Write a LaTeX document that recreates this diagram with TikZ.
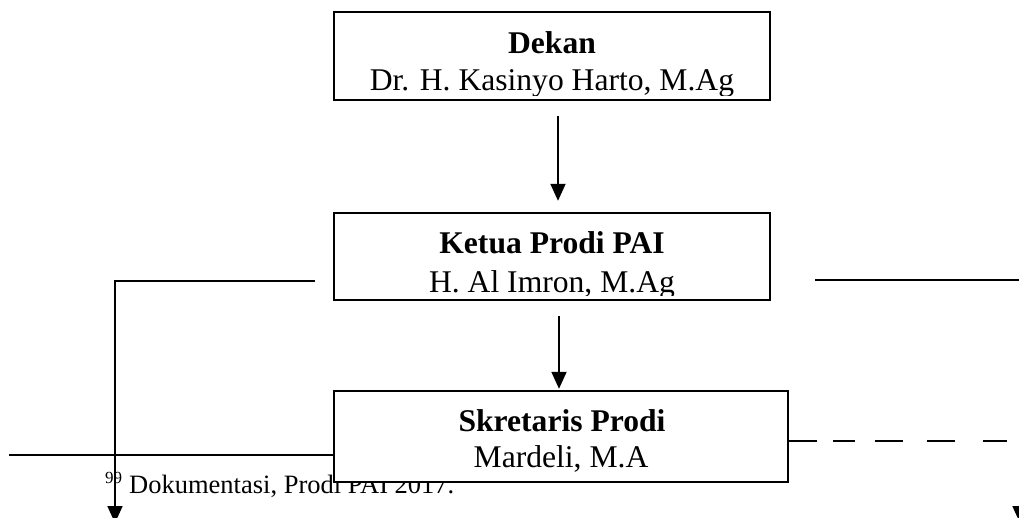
\documentclass[tikz,border=0pt]{standalone}
\usepackage{fontspec}
\setmainfont{Liberation Serif}
\usetikzlibrary{arrows.meta}
\tikzset{
 box/.style={draw, line width=1.6pt, fill=white, inner sep=0pt},
 lbl/.style={anchor=base, inner sep=0pt, font=\fontsize{31.6pt}{36pt}\selectfont},
 ttl/.style={anchor=base, inner sep=0pt, font=\fontsize{31.6pt}{36pt}\selectfont\bfseries},
 conn/.style={line width=1.8pt},
 arr/.style={conn, -{Triangle[length=17pt,width=15pt]}},
}
\begin{document}
\begin{tikzpicture}[x=1pt,y=-1pt]
\clip (0,0) rectangle (1019,517);
\fill[white] (0,0) rectangle (1019,517);
% footnote text (under the box)
\node[anchor=base west, inner sep=0pt, font=\fontsize{26.5pt}{30pt}\selectfont] (fn) at (105,493)
  {\raisebox{10pt}{\fontsize{17pt}{20pt}\selectfont 99}\hspace{7pt}Dokumentasi, Prodi PAI 2017.};
% boxes
\node[box, minimum width=436pt, minimum height=88pt] (dekan) at (552,56) {};
\node[box, minimum width=436pt, minimum height=87pt] (ketua) at (552,256.5) {};
\node[box, minimum width=454pt, minimum height=91pt] (skr) at (561,436.5) {};
% texts
\begin{scope}
\clip (dekan.north west) rectangle ([yshift=5pt]dekan.south east);
\node[ttl] (dekanT) at (552,53) {Dekan};
\node[lbl] (dekanN) at (552,90) {Dr. H. Kasinyo Harto, M.Ag};
\end{scope}
\begin{scope}
\clip (ketua.north west) rectangle ([yshift=5pt]ketua.south east);
\node[ttl] (ketuaT) at (552,253) {Ketua Prodi PAI};
\node[lbl] (ketuaN) at (552,292) {H. Al Imron, M.Ag};
\end{scope}
\node[ttl] (skrT) at (562,431) {Skretaris Prodi};
\node[lbl] (skrN) at (561,467) {Mardeli, M.A};
% connectors
\draw[arr] ([xshift=6pt,yshift=-15pt]dekan.south) -- ++(0,85);
\draw[arr] ([xshift=7pt,yshift=-15pt]ketua.south) -- ++(0,73);
\coordinate (kl) at (315,281);
\coordinate (kr) at (815,280);
\draw[arr] (kl) -- (115,281) -- (115,523);
\draw[arr] (kr) -- (1020,280) -- (1020,523);
\coordinate (fl) at (9,455);
\draw[line width=1.6pt] (fl) -- (fl -| skr.west);
\draw[line width=1.6pt, dash pattern=on 28pt off 16pt on 22pt off 20pt on 28pt off 24pt on 28pt off 28pt on 24pt off 30pt]
  ([yshift=-4.5pt]skr.east) -- (1019,441);
\end{tikzpicture}
\end{document}
